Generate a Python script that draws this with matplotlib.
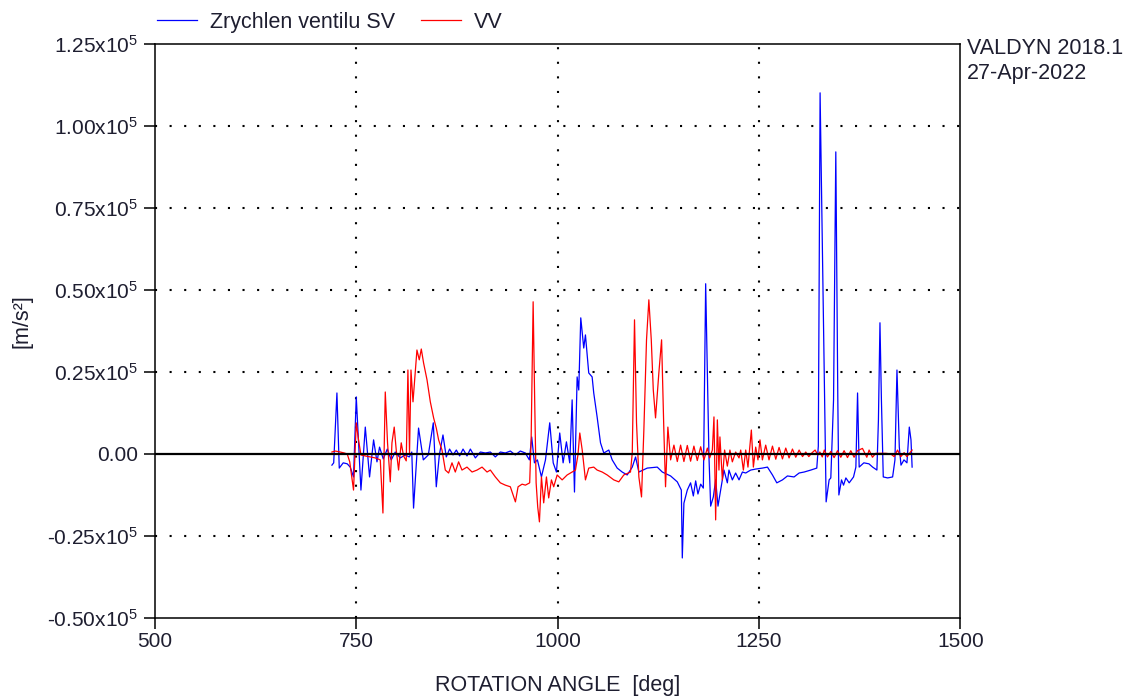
import matplotlib
matplotlib.use("Agg")
import matplotlib.pyplot as plt

plt.rcParams.update({
    "font.family": ["Liberation Sans", "DejaVu Sans"],
    "mathtext.fontset": "custom",
    "mathtext.rm": "Liberation Sans",
    "mathtext.it": "Liberation Sans",
    "mathtext.default": "regular",
})

# valve acceleration, blue series (SV)
sv_deg = [720, 722.2, 726.2, 729.1, 734, 739, 742.7, 746.8, 750.2, 756, 761.4, 766.7, 771.7,
          775.9, 779.1, 783.7, 788.7, 793.6, 798.6, 804.8, 811, 816, 819.1, 821.3, 827.5, 833.4,
          839.6, 845.8, 849.5, 853.3, 857.8, 861.9, 866, 870.3, 874.4, 878.5, 882.7, 887.6, 891.8,
          898, 904.2, 910.4, 916.6, 922.8, 929, 935.2, 941.4, 947.6, 953.8, 960, 965, 967.9, 971.3,
          975, 980, 985, 990.3, 994.6, 998.6, 1002.7, 1006.9, 1011, 1015.1, 1018.1, 1021, 1024.3,
          1026.3, 1028.8, 1032.5, 1034.6, 1038.7, 1042.9, 1044.9, 1049.1, 1053.3, 1057.4, 1063.6,
          1067.8, 1074, 1080.2, 1086.4, 1092.7, 1096.8, 1100.9, 1111.3, 1123.7, 1130, 1140.3,
          1148.6, 1153.6, 1154.8, 1156.8, 1161, 1165.1, 1168.5, 1171.4, 1174.2, 1177.6, 1180.9,
          1183.8, 1187.9, 1190, 1193.3, 1196.2, 1199.1, 1202.4, 1206.5, 1210.7, 1212.7, 1216.9,
          1221, 1225.2, 1229.4, 1233.5, 1239.7, 1245.9, 1254.2, 1260.5, 1266.7, 1272.1, 1279.1,
          1285.3, 1293.5, 1299.8, 1306, 1314.3, 1321.7, 1323.6, 1325.8, 1333.3, 1337, 1339.1,
          1342.5, 1345.3, 1347.8, 1349.1, 1352.4, 1354.9, 1357.8, 1361.9, 1367.3, 1370.2, 1372.3,
          1374.3, 1380.1, 1386.4, 1391, 1396.3, 1398.2, 1400.1, 1401.9, 1404.2, 1409.6, 1415.8,
          1418.7, 1421.2, 1424.1, 1426.2, 1429.9, 1433.6, 1436.5, 1438.6, 1440]
sv_acc = [-3400, -2700, 18600, -4300, -2700, -3000, -4000, -7000, 17400, -11000, 8200, -7000, 4300,
          -2400, 2100, -1500, 1500, -1800, 600, -1200, -300, -900, 600, -16500, 7900, -1800,
          -300, 9500, -10000, -300, 5800, -900, 1500, -300, 1200, -600, 1500, -600, 1500,
          -1200, 600, 300, 600, -900, 600, 300, 900, -300, 900, 300, -1800, 5200, -2700,
          -1800, -7000, -1800, 9500, -2700, -5500, 6400, -2700, 3700, -2700, 16500, -11600, 23500,
          19500, 41500, 32300, 36300, 24700, 23500, 18600, 11300, 3400, 300, 1200,
          -1800, -4300, -5500, -6400, -4000, -900, -5500, -4300, -4000, -5500, -6700,
          -8500, -11000, -31700, -15000, -11000, -8800, -12800, -8200, -12200, -9200, -10400,
          51900, -900, -15900, -13100, -7900, -15900, -11000, -4900, -8800, -4900, -7900,
          -5800, -7900, -5500, -5800, -4900, -4600, -4300, -4000, -6400, -8800, -7900,
          -6700, -7000, -5800, -5500, -4900, -4300, 2400, 110100, -14600, -7900, -7300,
          16500, 92100, 16500, -12500, -7900, -9500, -7300, -8800, -7000, -4000, 18600,
          -4000, -2700, -3000, -4000, -4900, 10400, 40000, 16500, -7000, -7300, -7000,
          -1800, 25600, 2100, -3400, -1800, -2700, 8200, 4300, -4000]

# red series (VV)
vv_deg = [720, 724.1, 730.3, 735.3, 739, 742.1, 746.8, 750.2, 753, 756, 761.4, 767.5, 773.8, 780,
          783.3, 786.2, 789, 792.4, 794.5, 797.3, 799.8, 802.7, 806, 808.9, 812.2, 814.3, 816.3,
          818.1, 820.6, 823.4, 825.5, 828.4, 830.9, 833.7, 838, 842.1, 846.2, 849.5, 852.4, 856.6,
          860.7, 864.8, 869, 873.1, 877.2, 881.4, 887.6, 893.9, 900.1, 906.3, 912.5, 916.6, 922.8,
          929, 935.2, 941.4, 945.6, 947.7, 951, 956, 960.1, 965.4, 967.2, 969.7, 971.6, 973.4,
          975.4, 977.5, 980, 982.8, 986.2, 989, 992.4, 995.2, 999.5, 1005.7, 1011.9, 1018.1, 1022.2,
          1025.3, 1027.6, 1030.6, 1034.6, 1038.7, 1044.9, 1049.1, 1055.4, 1061.6, 1069.8, 1076,
          1082.2, 1090.5, 1092.7, 1095.5, 1098, 1100.9, 1104.2, 1107.1, 1110.4, 1113.3, 1116.3,
          1118.8, 1121.6, 1125.7, 1129.1, 1131.9, 1134, 1136.9, 1140.3, 1144.4, 1148.6, 1152.7,
          1156.8, 1161, 1165.1, 1169.2, 1173.4, 1177.6, 1181.7, 1185.9, 1188.8, 1192.1, 1194.1,
          1196.2, 1198.3, 1200.3, 1201.5, 1204.5, 1207.3, 1210.7, 1213.9, 1216.9, 1221, 1225.2,
          1227.3, 1230.6, 1233.5, 1236.3, 1240.5, 1243, 1245.9, 1248.7, 1251.2, 1254.2, 1258.3,
          1262.4, 1266.7, 1270.8, 1274.9, 1279.1, 1283.2, 1287.3, 1291.5, 1295.6, 1299.8, 1304,
          1308, 1311.8, 1315.5, 1319.6, 1323, 1325.5, 1328.5, 1331, 1335, 1339.1, 1343.2, 1347.4,
          1351.5, 1355.6, 1359.8, 1363.9, 1368, 1372.2, 1378.4, 1383.8, 1386.6, 1390.8, 1394.9,
          1401.2, 1407.4, 1413.6, 1417.7, 1421.9, 1426, 1430.1, 1433.5, 1440]
vv_acc = [600, 900, 600, 300, 0, -2400, -11000, 9500, 4300, -300, -600, -900, -1200, -1800,
          -18000, 18900, 3400, -8500, 3400, 8200, 1200, -4900, 3400, -600, -2100, 25600, 300,
          25600, 15900, 24700, 31700, 28700, 32000, 27800, 22600, 15900, 11000, 7900, 4300, 1200,
          -4900, -5800, -2700, -5500, -2400, -4900, -4000, -5500, -4900, -4000, -5500, -4900, -7000,
          -8800, -9500, -10000, -13100, -14600, -10000, -9200, -9500, -8800, 4300, 46400, 16500, -8800,
          -16200, -20700, -7000, -14900, -7000, -13400, -7900, -10000, -6400, -7900, -6400, -5500, -4900,
          -300, 6400, 1200, -7900, -4300, -4000, -4900, -5500, -6400, -7900, -8500,
          -6400, -5500, 300, 40900, 9500, -7000, -13100, 7300, 34800, 47000, 34800,
          19500, 11000, 24700, 34800, 7300, -10000, 8200, -1800, 2700, -2300, 2700,
          -2300, 2600, -2200, 2400, -2000, 2200, -1800, 1800, -1200, 1200, 11300,
          -20100, 10400, -4900, 5200, -7900, 1200, -3700, 1200, -2400, 600, -1200,
          1200, -4900, 1200, -4000, 7300, -4000, 2100, -1800, 4300, -1800, 2700,
          -1800, 2400, -1600, 2000, -1500, 1800, -1200, 1500, -1000, 1200, -800,
          600, -800, 300, 1200, -300, 600, -900, 1200, -900, 800, -1100, 1000,
          -1000, 1000, -1100, 1000, -1000, 1000, 1700, -1000, 1200, -1000, 200,
          200, 200, 0, -800, 1200, -800, 400, -800, 1200]

x_ticks = [500, 750, 1000, 1250, 1500]
y_ticks = [-50000, -25000, 0, 25000, 50000, 75000, 100000, 125000]
y_ticklabels = [r"-0.50x10$^5$", r"-0.25x10$^5$", "0.00", r"0.25x10$^5$", r"0.50x10$^5$",
                r"0.75x10$^5$", r"1.00x10$^5$", r"1.25x10$^5$"]

fig = plt.figure(figsize=(11.43, 6.99), dpi=100)
ax = fig.add_axes([0.1353, 0.1159, 0.7050, 0.8212])

ax.plot(sv_deg, sv_acc, color="#0000ff", lw=0.9, label="Zrychlen ventilu SV")
ax.plot(vv_deg, vv_acc, color="#ff0000", lw=0.9, label="VV")

# dotted grid, solid zero line
for xv in [750, 1000, 1250]:
    ax.axvline(xv, color="black", lw=1.5, ls=(0, (1, 6)), zorder=0)
for yv in [-25000, 25000, 50000, 75000, 100000]:
    ax.axhline(yv, color="black", lw=1.5, ls=(0, (1, 6)), zorder=0)
ax.axhline(0, color="black", lw=1.6, zorder=5)

ax.set_xlim(500, 1500)
ax.set_ylim(-50000, 125000)
ax.set_xticks(x_ticks)
ax.set_yticks(y_ticks)
ax.set_yticklabels(y_ticklabels)
ax.tick_params(direction="out", length=8, width=1.1, labelsize=15, colors="black",
               labelcolor="#1e1e30")
ax.tick_params(axis="x", pad=2)
ax.tick_params(axis="y", pad=4)
for sp in ax.spines.values():
    sp.set_linewidth(1.1)

ax.set_xlabel("ROTATION ANGLE  [deg]", fontsize=15.5, color="#1e1e30")
ax.xaxis.set_label_coords(0.5, -0.099)
ax.set_ylabel("[m/s²]", fontsize=15.5, color="#1e1e30")
ax.yaxis.set_label_coords(-0.151, 0.517)

ax.legend(loc="lower left", bbox_to_anchor=(-0.002, 1.012), ncol=2, frameon=False,
          fontsize=15.5, handlelength=1.85, handletextpad=0.6, columnspacing=1.2,
          borderaxespad=0.1, borderpad=0.1, labelcolor="#1e1e30")

fig.text(967 / 1143, 1 - 38 / 699, "VALDYN 2018.1\n27-Apr-2022", fontsize=15.5,
         color="#1e1e30", va="top", ha="left", linespacing=1.25)

fig.savefig("out.png", dpi=100)
